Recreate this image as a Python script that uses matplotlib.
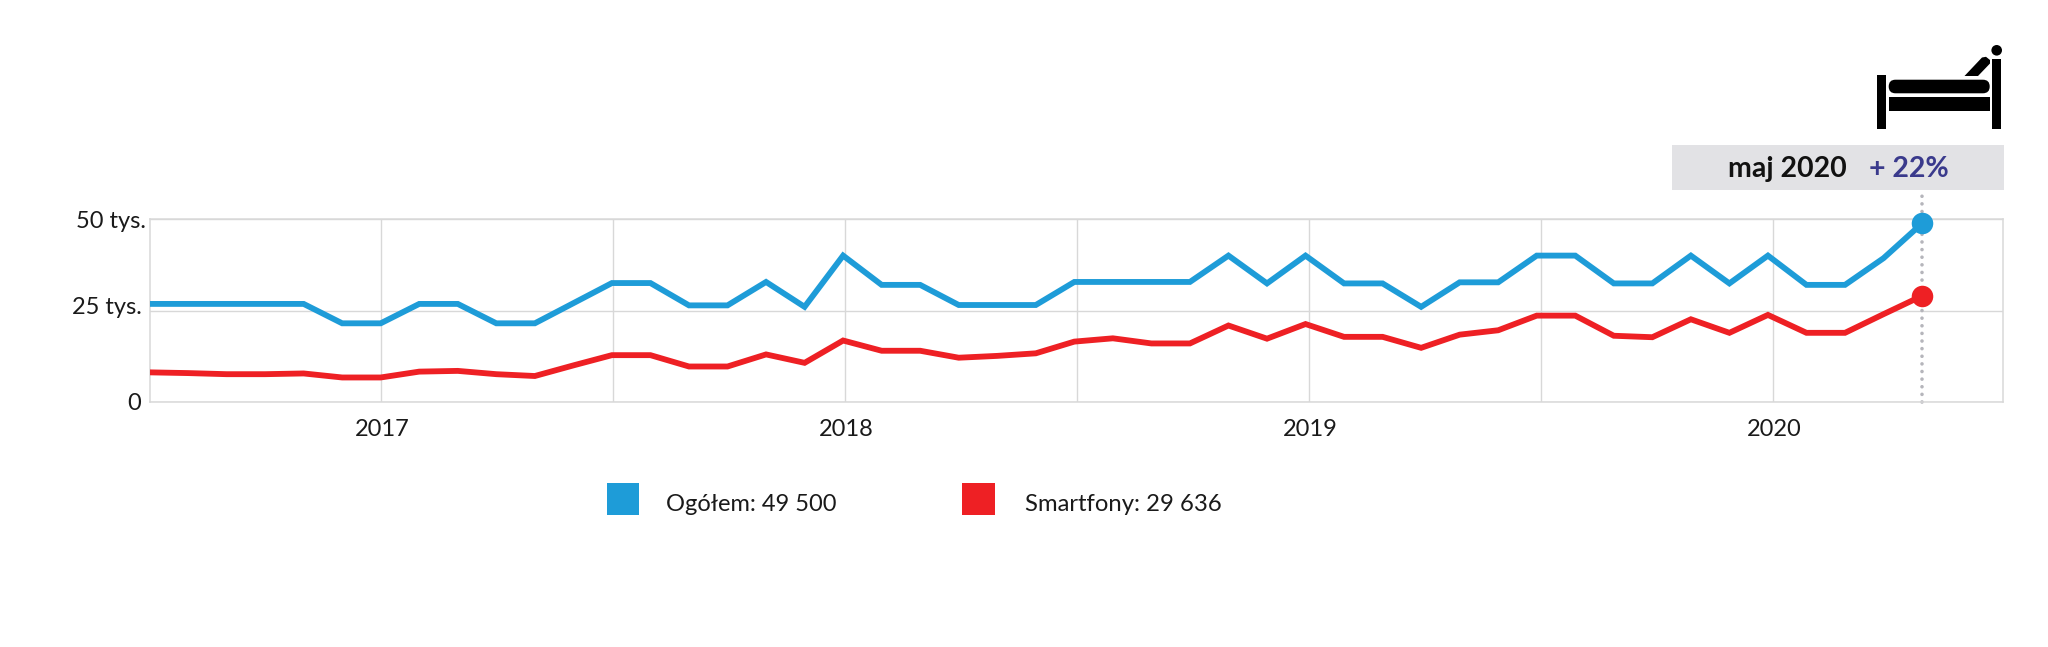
#!/usr/bin/env python3
"""Monthly line chart (Ogółem vs Smartfony), with the bed icon and the "maj 2020" label."""
import numpy as np
import matplotlib
matplotlib.use("Agg")
import matplotlib.pyplot as plt
from matplotlib.patches import Rectangle, Circle, FancyBboxPatch, Polygon

W, H = 2048, 647
plt.rcParams["font.family"] = ["Lato", "DejaVu Sans"]

BLUE = "#1e9cd8"
RED = "#ee2024"
GRID = "#d8d8d8"
TXT = "#1a1a1a"

# thousands, monthly from July 2016 to May 2020
total = [26.8, 26.8, 26.8, 26.8, 26.8, 21.5, 21.5, 26.8, 26.8, 21.5, 21.5, 27.0,
         32.5, 32.5, 26.4, 26.4, 32.8, 26.0, 40.0, 32.0, 32.0, 26.5, 26.5, 26.5,
         32.8, 32.8, 32.8, 32.8, 40.0, 32.4, 40.0, 32.4, 32.4, 26.0, 32.7, 32.7,
         40.0, 40.0, 32.4, 32.4, 40.0, 32.4, 40.0, 32.0, 32.0, 39.3, 48.8]
smartphones = [8.1, 7.9, 7.6, 7.6, 7.8, 6.7, 6.7, 8.3, 8.5, 7.6, 7.1, 10.0,
               12.8, 12.8, 9.7, 9.7, 13.0, 10.7, 16.8, 14.0, 14.0, 12.1, 12.6, 13.3,
               16.5, 17.4, 16.0, 16.0, 20.9, 17.3, 21.3, 17.8, 17.8, 14.8, 18.4, 19.6,
               23.6, 23.6, 18.1, 17.7, 22.6, 18.9, 23.8, 18.9, 18.9, 24.0, 29.0]
year_labels = ["2017", "2018", "2019", "2020"]
year_months = [6.0, 18.04, 30.08, 42.12]
half_year_months = [12.02, 24.06, 36.1]
y_ticks = [0, 25, 50]
y_labels = ["0", "25 tys.", "50 tys."]
y_label_dx = [-9, -8, -4]  # px, right edge of each label vs. the axis
y_label_dy = [-1, 3.5, -2]  # px, the labels don't sit exactly on their gridlines
legend_total = "Ogółem: 49 500"
legend_smart = "Smartfony: 29 636"

fig = plt.figure(figsize=(W / 100, H / 100), dpi=100, facecolor="white")
ax = fig.add_axes([149.5 / W, (H - 402) / H, 1853.5 / W, 183 / H])
x = np.arange(len(total))

ax.set_xlim(0, 48.1)
ax.set_ylim(0, 50)
ax.set_xticks(year_months + half_year_months)
ax.set_xticklabels([])
ax.set_yticks(y_ticks)
ax.set_yticklabels([])
ax.tick_params(length=0)
ax.grid(True, color=GRID, lw=1.0)
ax.set_axisbelow(True)
for s in ax.spines.values():
    s.set_color(GRID)
    s.set_linewidth(1.1)

# dotted marker line for the last month, runs up to the grey label
ax.plot([x[-1], x[-1]], [0, 57.5], color="#b5b5bb", lw=2.6, clip_on=False,
        ls=(0, (0.01, 2.1)), dash_capstyle="round", zorder=2)

ax.plot(x, total, color=BLUE, lw=4.2, solid_joinstyle="miter", zorder=3)
ax.plot(x, smartphones, color=RED, lw=4.2, solid_joinstyle="miter", zorder=3)
ax.plot(x[-1], total[-1], "o", color=BLUE, ms=15.5, mew=0, zorder=4, clip_on=False)
ax.plot(x[-1], smartphones[-1], "o", color=RED, ms=15.5, mew=0, zorder=4, clip_on=False)

for m, lab in zip(year_months, year_labels):
    ax.annotate(lab, (m, 0), xytext=(2, -28), textcoords="offset pixels",
                ha="center", va="center", fontsize=17, color=TXT)
for v, lab, dx, dy in zip(y_ticks, y_labels, y_label_dx, y_label_dy):
    ax.annotate(lab, (0, v), xytext=(dx, dy), textcoords="offset pixels",
                ha="right", va="center", fontsize=17, color=TXT)

# everything outside the plot goes on a pixel-sized overlay
ov = fig.add_axes([0, 0, 1, 1], zorder=5)
ov.set_xlim(0, W)
ov.set_ylim(H, 0)
ov.axis("off")

# label above the last month
ov.add_patch(Rectangle((1672, 144.5), 331.5, 45, color="#e2e2e5", lw=0))
ov.text(1727.5, 169, "maj 2020", fontsize=20.5, fontweight="bold", color="#111111",
        ha="left", va="center")
ov.text(1869, 169, "+ 22%", fontsize=20.5, fontweight="bold", color="#3a3a8c",
        ha="left", va="center")

# bed icon
ov.add_patch(Rectangle((1877.3, 75), 8.4, 53.7, color="black", lw=0))
ov.add_patch(Rectangle((1992.3, 58.5), 8.4, 70.2, color="black", lw=0))
ov.add_patch(Circle((1996.7, 50.3), 5.3, color="black", lw=0))
ov.add_patch(FancyBboxPatch((1888.7, 79.7), 101, 13.6, color="black", lw=0,
                            boxstyle="round,pad=0,rounding_size=6.8"))
ov.add_patch(Rectangle((1888.7, 97), 101, 14, color="black", lw=0))
ov.add_patch(Polygon([(1964.5, 76), (1982, 57.5), (1986, 56.8), (1990, 60), (1990, 63.5),
                      (1978, 76)], color="black", lw=0))

# legend
ov.add_patch(Rectangle((606.7, 483), 32.6, 32.3, color=BLUE, lw=0))
ov.add_patch(Rectangle((962, 483), 32.6, 32.3, color=RED, lw=0))
ov.text(666.5, 504.5, legend_total, fontsize=17, color=TXT, ha="left", va="center")
ov.text(1025, 504.5, legend_smart, fontsize=17.2, color=TXT, ha="left", va="center")

fig.savefig("out.png", dpi=100)
